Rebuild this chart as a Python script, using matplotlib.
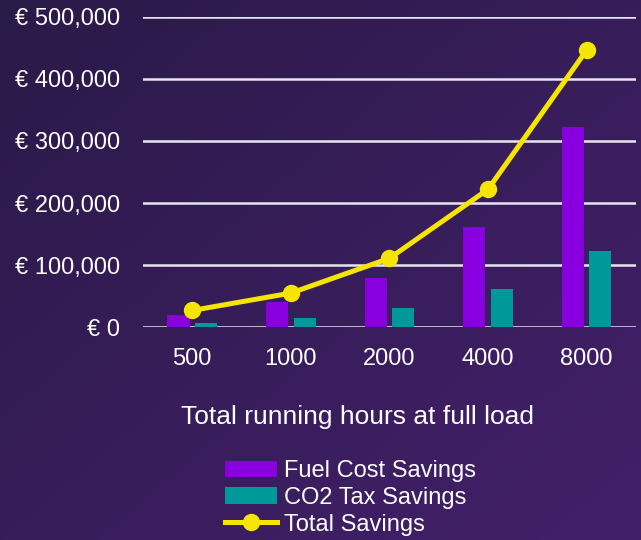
import numpy as np
import matplotlib
matplotlib.use('Agg')
import matplotlib.pyplot as plt
from matplotlib.ticker import FuncFormatter

plt.rcParams['font.family'] = ['Liberation Sans', 'DejaVu Sans']

hours = ['500', '1000', '2000', '4000', '8000']
fuel_savings = [20000, 40000, 80000, 161000, 323000]
co2_savings = [7000, 15000, 31000, 61000, 123000]
total_savings = [27000, 55000, 111000, 222000, 446000]

fig = plt.figure(figsize=(6.41, 5.40), dpi=100)

# gradient background
bg = fig.add_axes([0, 0, 1, 1], zorder=-10)
gx, gy = np.meshgrid(np.linspace(0, 1, 200), np.linspace(0, 1, 200))
t = (gx + gy) / 2
c0 = np.array([0x2a, 0x1a, 0x48]) / 255
c1 = np.array([0x44, 0x20, 0x6b]) / 255
img = c0[None, None, :] * (1 - t[..., None]) + c1[None, None, :] * t[..., None]
bg.imshow(img, aspect='auto', extent=[0, 1, 0, 1], origin='upper')
bg.axis('off')

ax = fig.add_axes([0.223, 0.394, 0.769, 0.575])
ax.set_facecolor('none')
x = np.arange(len(hours))
w = 0.225
b1 = ax.bar(x - 0.14, fuel_savings, w, color='#8800e0', label='Fuel Cost Savings', zorder=3)
b2 = ax.bar(x + 0.14, co2_savings, w, color='#009999', label='CO2 Tax Savings', zorder=3)
l1, = ax.plot(x, total_savings, color='#f5e500', lw=3.6, marker='o', ms=11.5,
              label='Total Savings', zorder=4)

ax.set_xlim(-0.5, len(hours) - 0.5)
ax.set_ylim(0, 500000)
ax.set_yticks(np.arange(0, 500001, 100000))
ax.yaxis.set_major_formatter(FuncFormatter(lambda v, p: '€ {:,.0f}'.format(v)))
ax.set_xticks(x)
ax.set_xticklabels(hours)
ax.grid(axis='y', color='#e6e6ee', lw=1.8, zorder=1)
for s in ax.spines.values():
    s.set_visible(False)
ax.tick_params(axis='both', length=0, colors='white', labelsize=17)
ax.tick_params(axis='y', pad=16.5)
ax.tick_params(axis='x', pad=15)
ax.set_xlabel('Total running hours at full load', color='white', fontsize=19)
ax.xaxis.set_label_coords(0.436, -0.25)

leg = fig.legend([b1, b2, l1], ['Fuel Cost Savings', 'CO2 Tax Savings', 'Total Savings'],
                 loc='upper left', bbox_to_anchor=(0.351, 0.148), frameon=False,
                 fontsize=17, handlelength=2.2, handletextpad=0.3, labelspacing=0.2,
                 borderpad=0, borderaxespad=0)
for txt in leg.get_texts():
    txt.set_color('white')

fig.savefig('out.png', dpi=100)
